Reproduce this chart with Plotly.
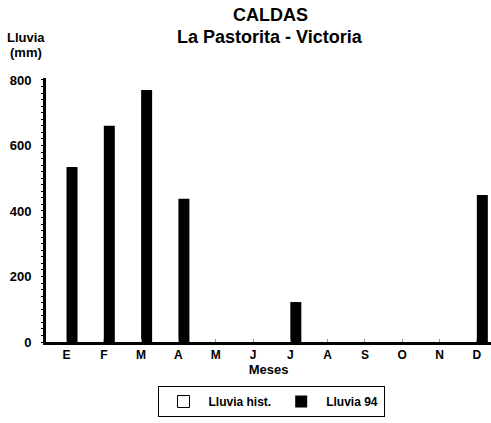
import plotly.graph_objects as go

meses = ["E", "F", "M", "A", "M", "J", "J", "A", "S", "O", "N", "D"]
lluvia_hist = [None] * 12
lluvia_94 = [534, 660, 769, 437, 0, 0, 122, 0, 0, 0, 0, 449]
y_ticks = [0, 200, 400, 600, 800]

x_idx = list(range(len(meses)))
FONT = "Liberation Sans, Arial, sans-serif"

W, H = 491, 423
# plot area in page pixels
L, R, T, B = 46, 491, 78, 342

def px(x):
    return (x - L) / (R - L)
def py(y):
    return (B - y) / (B - T)

fig = go.Figure()
fig.add_trace(go.Bar(x=x_idx, y=lluvia_hist, name="<b>Lluvia hist.</b>",
                     marker=dict(color="white", line=dict(color="black", width=1))))
fig.add_trace(go.Bar(x=x_idx, y=lluvia_94, name="<b>Lluvia 94</b>",
                     marker=dict(color="black", line=dict(width=0))))

fig.update_layout(
    width=W, height=H,
    margin=dict(l=L, r=W - R, t=T, b=H - B, autoexpand=False),
    paper_bgcolor="white", plot_bgcolor="white",
    barmode="group", bargap=0.41, bargroupgap=0,
    font=dict(family=FONT, color="black"),
    showlegend=True,
    legend=dict(orientation="h", xref="container", x=271 / W, xanchor="center",
                yref="container", y=(H - 386) / H, yanchor="top",
                bordercolor="black", borderwidth=1, bgcolor="white",
                font=dict(size=12, family=FONT, color="black"),
                traceorder="normal", itemwidth=40),
)

fig.update_xaxes(
    range=[-0.55, 11.38], automargin=False,
    tickmode="array", tickvals=x_idx, ticktext=["<b>%s</b>" % m for m in meses],
    tickfont=dict(size=12, family=FONT, color="black"),
    showline=True, linecolor="black", linewidth=3,
    ticks="inside", tickson="boundaries", ticklen=3, tickcolor="#999",
    showgrid=False, zeroline=False,
    title=dict(text="<b>Meses</b>", font=dict(size=13, family=FONT, color="black"), standoff=0),
)
fig.update_yaxes(
    range=[0, 806], automargin=False,
    tickmode="array", tickvals=y_ticks, ticktext=["<b>%d</b>" % v for v in y_ticks],
    tickfont=dict(size=13, family=FONT, color="black"),
    showline=True, linecolor="black", linewidth=3,
    ticks="", ticklabelstandoff=9,
    minor=dict(ticks="outside", dtick=20, ticklen=2, tickwidth=1, tickcolor="black"),
    showgrid=False, zeroline=False,
)

def label(text, x, y, size):
    fig.add_annotation(text=text, xref="paper", yref="paper",
                       x=px(x), xanchor="center", y=py(y), yanchor="middle",
                       showarrow=False, font=dict(size=size, family=FONT, color="black"))

label("<b>CALDAS</b>", 270, 15, 18)
label("<b>La Pastorita - Victoria</b>", 270, 37, 18)
label("<b>Lluvia</b>", 26, 37, 13)
label("<b>(mm)</b>", 26, 53, 13)

fig.write_html("out.html", config={"displayModeBar": False},
               post_script="document.body.style.margin='0px';")
